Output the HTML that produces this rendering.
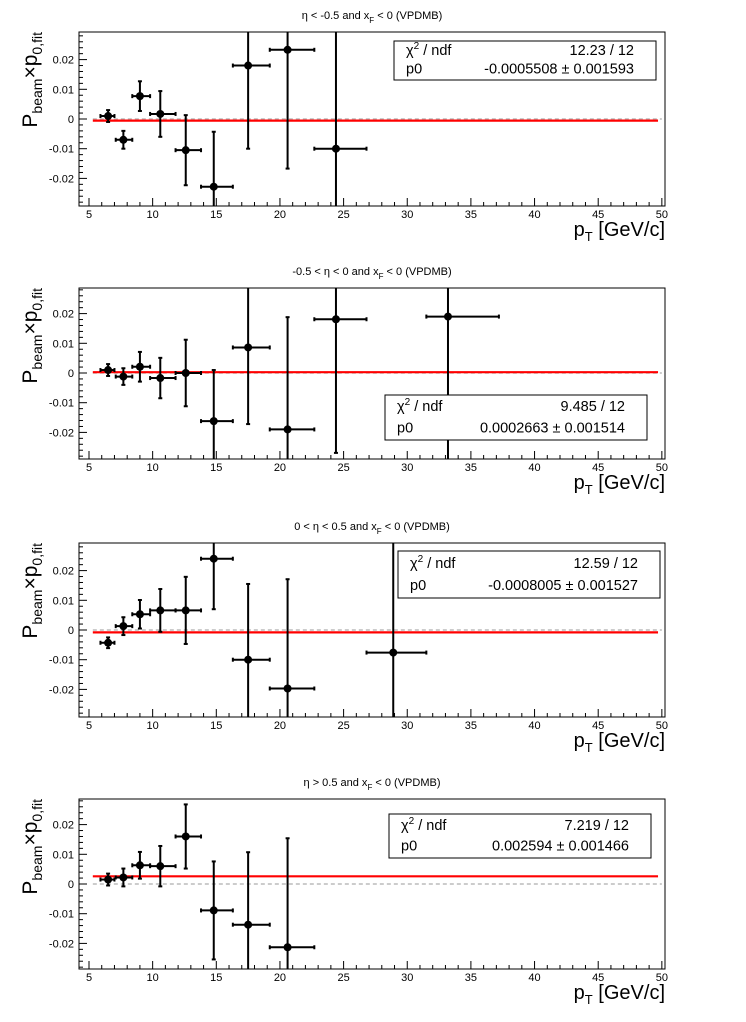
<!DOCTYPE html>
<html><head><meta charset="utf-8"><style>
body{margin:0;background:#fff;}
svg{display:block;font-family:"Liberation Sans",Arial,sans-serif;}
</style></head><body>
<svg id="c" width="746" height="1022" viewBox="0 0 746 1022" xmlns="http://www.w3.org/2000/svg"></svg>
<script>
const ptCenters = [6.5, 7.7, 9.0, 10.6, 12.6, 14.8, 17.5, 20.6, 24.4, 28.9, 33.2];
const ptLow     = [5.9, 7.1, 8.4, 9.8, 11.8, 13.8, 16.3, 19.2, 22.7, 26.8, 31.5];
const ptHigh    = [7.0, 8.4, 9.8, 11.8, 13.8, 16.3, 19.2, 22.7, 26.8, 31.5, 37.2];
const xTickLabels = [5,10,15,20,25,30,35,40,45,50];
const yTickLabels = [-0.02,-0.01,0,0.01,0.02];
const panelTitles = ["η < -0.5 and x_F < 0 (VPDMB)","-0.5 < η < 0 and x_F < 0 (VPDMB)","0 < η < 0.5 and x_F < 0 (VPDMB)","η > 0.5 and x_F < 0 (VPDMB)"];
const p1Values = [0.001,-0.007,0.0077,0.0017,-0.0105,-0.0228,0.018,0.0233,-0.0100,null,null];
const p1Errors = [0.002,0.003,0.005,0.0077,0.0118,0.0185,0.028,0.040,0.045,null,null];
const p2Values = [0.001,-0.0012,0.0021,-0.0017,0.0000,-0.0162,0.0086,-0.0190,0.0181,null,0.0190];
const p2Errors = [0.002,0.0028,0.005,0.0068,0.0112,0.0172,0.0258,0.0378,0.045,null,0.05];
const p3Values = [-0.0043,0.0013,0.0053,0.0066,0.0066,0.0240,-0.0100,-0.0197,null,-0.0076,null];
const p3Errors = [0.0018,0.003,0.0048,0.0072,0.0113,0.017,0.0255,0.0368,null,0.045,null];
const p4Values = [0.0015,0.0022,0.0063,0.0060,0.0160,-0.0089,-0.0137,-0.0213,null,null,null];
const p4Errors = [0.002,0.003,0.0045,0.0068,0.0108,0.0165,0.0244,0.0367,null,null,null];
const fitValues = [-0.0005508, 0.0002663, -0.0008005, 0.002594];
const chi2Labels = ["12.23 / 12","9.485 / 12","12.59 / 12","7.219 / 12"];
const p0Labels = ["-0.0005508 ± 0.001593","0.0002663 ± 0.001514","-0.0008005 ± 0.001527","0.002594 ± 0.001466"];

const allValues=[p1Values,p2Values,p3Values,p4Values];
const allErrors=[p1Errors,p2Errors,p3Errors,p4Errors];
const frames=[{t:32,b:206,z:119},{t:288,b:459,z:373},{t:543,b:717,z:630},{t:799,b:969,z:884}];
const boxes=[[394,41,262,39],[385,395,262,45],[398,551,262,47],[389,814,262,44]];
const L=79,R=665,PPU=2970;
const svg=document.getElementById('c');
const NS="http://www.w3.org/2000/svg";
function el(tag,a,parent){const e=document.createElementNS(NS,tag);for(const k in a)e.setAttribute(k,a[k]);(parent||svg).appendChild(e);return e;}
function xs(v){return 89+(v-5)*12.73;}

frames.forEach((f,pi)=>{
  const g=el('g',{});
  
  
  const ys=v=>f.z-v*PPU;
  const cl=v=>Math.max(f.t,Math.min(f.b,v));
  const parts=panelTitles[pi].split('x_F');
  const t=el('text',{x:372,y:f.t-13,'font-size':11,'text-anchor':'middle'},g);
  
  
  t.appendChild(document.createTextNode(parts[0]+'x'));
  const sub=el('tspan',{'font-size':8,dy:4},t);sub.textContent='F';
  const rest=el('tspan',{dy:-4},t);rest.textContent=parts[1];
  const fr=el('rect',{x:L,y:f.t,width:R-L,height:f.b-f.t,fill:'none',stroke:'#000','stroke-width':1},g);
  
  
  for(let v=5;v<=50;v++){const x=xs(v);const len=(v%5===0)?8:4;el('line',{x1:x,x2:x,y1:f.b,y2:f.b-len,stroke:'#000','stroke-width':1},g);}
  xTickLabels.forEach(v=>{const tx=el('text',{x:xs(v),y:f.b+12,'font-size':11,'text-anchor':'middle'},g);
    
    
    tx.textContent=v;});
  for(let k=-14;k<=14;k++){const v=k*0.002;const y=ys(v);if(y<f.t||y>f.b)continue;const len=(k%5===0)?8:4;el('line',{x1:L,x2:L+len,y1:y,y2:y,stroke:'#000','stroke-width':1},g);}
  yTickLabels.forEach(v=>{const ty=el('text',{x:L-5,y:ys(v)+4,'font-size':11,'text-anchor':'end'},g);
    
    
    ty.textContent=v===0?'0':String(v);});
  const zl=el('line',{x1:xs(5.3),x2:xs(50),y1:ys(0),y2:ys(0),stroke:'#bbb','stroke-width':1.5,'stroke-dasharray':'4,3'},g);
  
  
  const fl=el('line',{x1:xs(5.3),x2:xs(49.7),y1:ys(fitValues[pi]),y2:ys(fitValues[pi]),stroke:'#f00','stroke-width':2.2},g);
  
  
  const vals=allValues[pi],errs=allErrors[pi];
  ptCenters.forEach((c,i)=>{
    if(vals[i]===null)return;
    const pg=el('g',{stroke:'#000','stroke-width':2},g);
    
    
    const x=xs(c),y=ys(vals[i]),x1=xs(ptLow[i]),x2=xs(ptHigh[i]);
    const y1=ys(vals[i]+errs[i]),y2=ys(vals[i]-errs[i]);
    el('line',{x1:x1,x2:x2,y1:y,y2:y},pg);
    el('line',{x1:x,x2:x,y1:cl(y1),y2:cl(y2)},pg);
    el('line',{x1:x1,x2:x1,y1:y-2,y2:y+2},pg);
    el('line',{x1:x2,x2:x2,y1:y-2,y2:y+2},pg);
    if(y1>=f.t)el('line',{x1:x-2,x2:x+2,y1:y1,y2:y1},pg);
    if(y2<=f.b)el('line',{x1:x-2,x2:x+2,y1:y2,y2:y2},pg);
    el('circle',{cx:x,cy:y,r:4,fill:'#000',stroke:'none'},pg);
  });
  const [bx,by,bw,bh]=boxes[pi];
  const sb=el('g',{},g);
  
  
  el('rect',{x:bx,y:by,width:bw,height:bh,fill:'#fff',stroke:'#000','stroke-width':1},sb);
  const r1=by+bh*0.36,r2=by+bh*0.83;
  const c1=el('text',{x:bx+12,y:r1,'font-size':14.5},sb);
  c1.appendChild(document.createTextNode('χ'));
  const sup=el('tspan',{'font-size':10,dy:-6},c1);sup.textContent='2';
  const nd=el('tspan',{dy:6},c1);nd.textContent=' / ndf';
  const c2=el('text',{x:bx+bw-22,y:r1,'font-size':14.5,'text-anchor':'end'},sb);c2.textContent=chi2Labels[pi];
  const c3=el('text',{x:bx+12,y:r2,'font-size':14.5},sb);c3.textContent='p0';
  const c4=el('text',{x:bx+bw-22,y:r2,'font-size':14.5,'text-anchor':'end'},sb);c4.textContent=p0Labels[pi];
  const yt=el('text',{transform:`translate(37,${f.t}) rotate(-90)`,'font-size':21,'text-anchor':'end'},g);
  
  
  yt.appendChild(document.createTextNode('P'));
  const s1=el('tspan',{'font-size':14,dy:5},yt);s1.textContent='beam';
  const s2=el('tspan',{dy:-5},yt);s2.textContent='×p';
  const s3=el('tspan',{'font-size':14,dy:5},yt);s3.textContent='0,fit';
  const xt=el('text',{x:R,y:f.b+30,'font-size':20,'text-anchor':'end'},g);
  
  
  xt.appendChild(document.createTextNode('p'));
  const s4=el('tspan',{'font-size':13,dy:5},xt);s4.textContent='T';
  const s5=el('tspan',{dy:-5},xt);s5.textContent=' [GeV/c]';
});
</script>
</body></html>
